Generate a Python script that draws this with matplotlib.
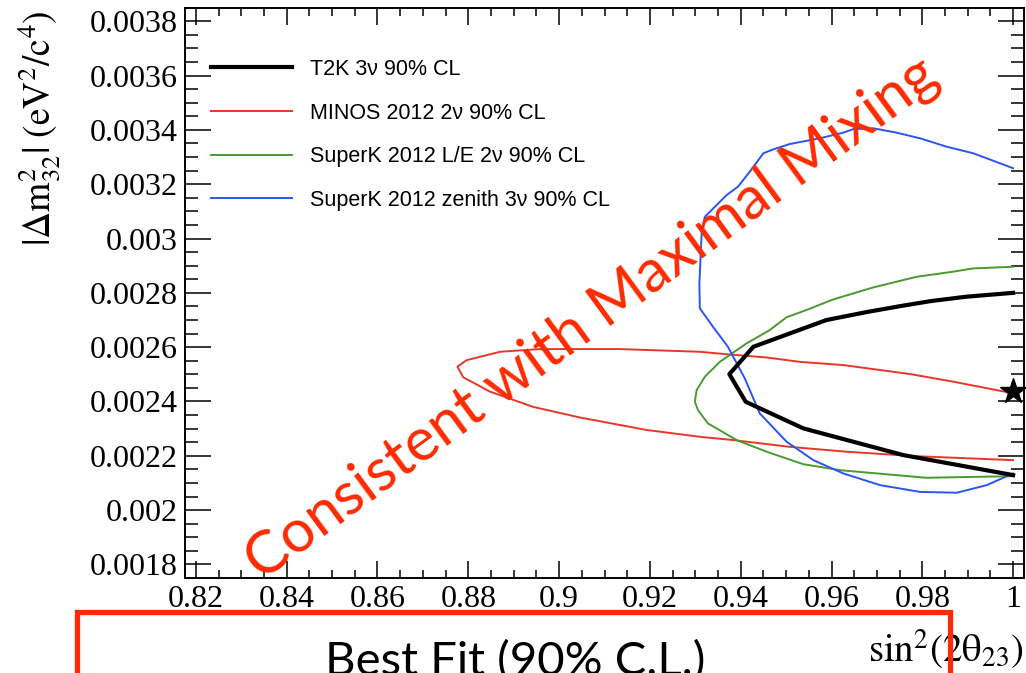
import matplotlib
matplotlib.use("Agg")
import matplotlib.pyplot as plt
from matplotlib.patches import Rectangle
from matplotlib.ticker import FixedLocator, MultipleLocator

plt.rcParams['mathtext.fontset'] = 'stix'

# ---------------- data ----------------
t2k_x = [1.000, 0.9898, 0.982, 0.9751, 0.968, 0.9589, 0.9428, 0.9375, 0.9411, 0.9538, 0.9758, 1.000]
t2k_y = [0.00280, 0.002786, 0.00277, 0.002751, 0.00273, 0.00270, 0.0026015, 0.0025007, 0.0023989, 0.0023009, 0.0022026, 0.0021289]

minos_x = [1.000, 0.9868, 0.9773, 0.9626, 0.9530, 0.9457, 0.9376, 0.9310, 0.9134, 0.8958, 0.8870,
           0.8796, 0.8776, 0.8789, 0.8848, 0.8943, 0.9046, 0.9193, 0.9310, 0.9383, 0.9508, 0.9633,
           0.9780, 1.000]
minos_y = [0.002430, 0.002473, 0.002501, 0.002534, 0.002546, 0.002562, 0.002573, 0.002583, 0.002593,
           0.002593, 0.002583, 0.002552, 0.002528, 0.002489, 0.002436, 0.002380, 0.002341, 0.002295,
           0.002270, 0.002258, 0.002233, 0.002215, 0.002199, 0.002184]

skle_x = [1.000, 0.9912, 0.9868, 0.9787, 0.9692, 0.9604, 0.9545, 0.9501, 0.9464, 0.9413, 0.9354,
          0.9321, 0.9303, 0.9299, 0.9306, 0.9328, 0.9391, 0.9457, 0.9538, 0.9619, 0.9809, 1.000]
skle_y = [0.002896, 0.002890, 0.002878, 0.002859, 0.002820, 0.002776, 0.002737, 0.002710, 0.002663,
          0.002614, 0.002546, 0.002491, 0.002442, 0.002399, 0.002368, 0.002319, 0.002258, 0.002215,
          0.002169, 0.002147, 0.002119, 0.002125]

skzen_x = [1.000, 0.9912, 0.9854, 0.9795, 0.9743, 0.9692, 0.9648, 0.9626, 0.9574, 0.9508, 0.9468,
           0.9450, 0.9420, 0.9394, 0.9369, 0.9321, 0.9314, 0.9309, 0.9310, 0.9339, 0.9372, 0.9409,
           0.9442, 0.9501, 0.9560, 0.9626, 0.9707, 0.9795, 0.9876, 0.9942, 1.000]
skzen_y = [0.003259, 0.003314, 0.003338, 0.003369, 0.003390, 0.003406, 0.003403, 0.003390, 0.003369,
           0.003348, 0.003326, 0.003314, 0.003246, 0.003191, 0.003160, 0.003080, 0.003019, 0.002835,
           0.002743, 0.002675, 0.002601, 0.002485, 0.002356, 0.002252, 0.002184, 0.002135, 0.002092,
           0.002067, 0.002064, 0.002092, 0.002135]

best_x = [1.000]
best_y = [0.002439]

series_labels = ["T2K 3\u03bd 90% CL", "MINOS 2012 2\u03bd 90% CL",
                 "SuperK 2012 L/E 2\u03bd 90% CL", "SuperK 2012 zenith 3\u03bd 90% CL"]

x_ticks = [0.82, 0.84, 0.86, 0.88, 0.90, 0.92, 0.94, 0.96, 0.98, 1.00]
x_tick_labels = ["0.82", "0.84", "0.86", "0.88", "0.9", "0.92", "0.94", "0.96", "0.98", "1"]
y_ticks = [0.0018, 0.0020, 0.0022, 0.0024, 0.0026, 0.0028, 0.0030, 0.0032, 0.0034, 0.0036, 0.0038]
y_tick_labels = ["0.0018", "0.002", "0.0022", "0.0024", "0.0026", "0.0028", "0.003",
                 "0.0032", "0.0034", "0.0036", "0.0038"]

annotation_text = "Consistent with Maximal Mixing"
box_text = "Best Fit (90% C.L.)"

# ---------------- figure ----------------
W, H = 1026, 673
fig = plt.figure(figsize=(W / 100, H / 100), dpi=100)
ax = fig.add_axes([185 / W, 1 - 578 / H, (1024 - 185) / W, (578 - 7.7) / H])

red = '#e8372a'
green = '#4a9a2e'
blue = '#2a55f0'

ax.plot(t2k_x, t2k_y, color='black', lw=3.0, label=series_labels[0], zorder=5)
ax.plot(minos_x, minos_y, color=red, lw=1.4, label=series_labels[1], zorder=4)
ax.plot(skle_x, skle_y, color=green, lw=1.4, label=series_labels[2], zorder=4)
ax.plot(skzen_x, skzen_y, color=blue, lw=1.4, label=series_labels[3], zorder=4)
ax.plot(best_x, best_y, marker='*', color='black', ms=19, ls='none', zorder=6, clip_on=False)

ax.set_xlim(0.8176, 1.0024)
ax.set_ylim(0.00175, 0.00385)

ax.xaxis.set_major_locator(FixedLocator(x_ticks))
ax.set_xticklabels(x_tick_labels)
ax.xaxis.set_minor_locator(MultipleLocator(0.005))
ax.yaxis.set_major_locator(FixedLocator(y_ticks))
ax.set_yticklabels(y_tick_labels)
ax.yaxis.set_minor_locator(MultipleLocator(0.00005))

for s in ax.spines.values():
    s.set_linewidth(1.4)

ax.tick_params(axis='both', which='both', direction='in', top=True, right=True, width=1.1)
ax.tick_params(axis='x', which='major', length=12.3, pad=5)
ax.tick_params(axis='x', which='minor', length=6.1)
ax.tick_params(axis='y', which='major', length=18.7, pad=5)
ax.tick_params(axis='y', which='minor', length=9.4)
for lab in ax.get_xticklabels() + ax.get_yticklabels():
    lab.set_fontfamily('Liberation Serif')
    lab.set_fontsize(23)

leg = ax.legend(loc='upper left', bbox_to_anchor=(211 / W, 1 - 59 / H),
                bbox_transform=fig.transFigure, frameon=False,
                prop={'family': 'Liberation Sans', 'size': 15.5},
                handlelength=3.75, handletextpad=0.85, labelspacing=1.05, borderpad=0,
                borderaxespad=0)

# axis titles
fig.text(40 / W, 1 - 128 / H, r'$|\Delta \mathrm{m}^{2}_{32}|\ (\mathrm{eV}^{2}/\mathrm{c}^{4})$',
         rotation=90, ha='center', va='center', fontsize=27)
fig.text(1024 / W, 1 - 649 / H, r'$\mathrm{sin}^{2}(2\mathrm{\theta}_{23})$',
         ha='right', va='center', fontsize=28)

# big red annotation
fig.text(592 / W, 1 - 318 / H, annotation_text, rotation=36.3, rotation_mode='anchor',
         ha='center', va='center', color='#ff2a00', fontsize=43, family='Lato')

# red box at bottom
rect = Rectangle((77 / W, -0.1), (950 - 77) / W, 0.1 + (673 - 612) / H,
                 transform=fig.transFigure, fill=False, edgecolor='#ff2a00', lw=3.8,
                 clip_on=False, zorder=10)
fig.patches.append(rect)
fig.text(515 / W, 1 - 662 / H, box_text, ha='center', va='center', fontsize=34,
         family='Lato', color='black')

fig.savefig('out.png', dpi=100)
